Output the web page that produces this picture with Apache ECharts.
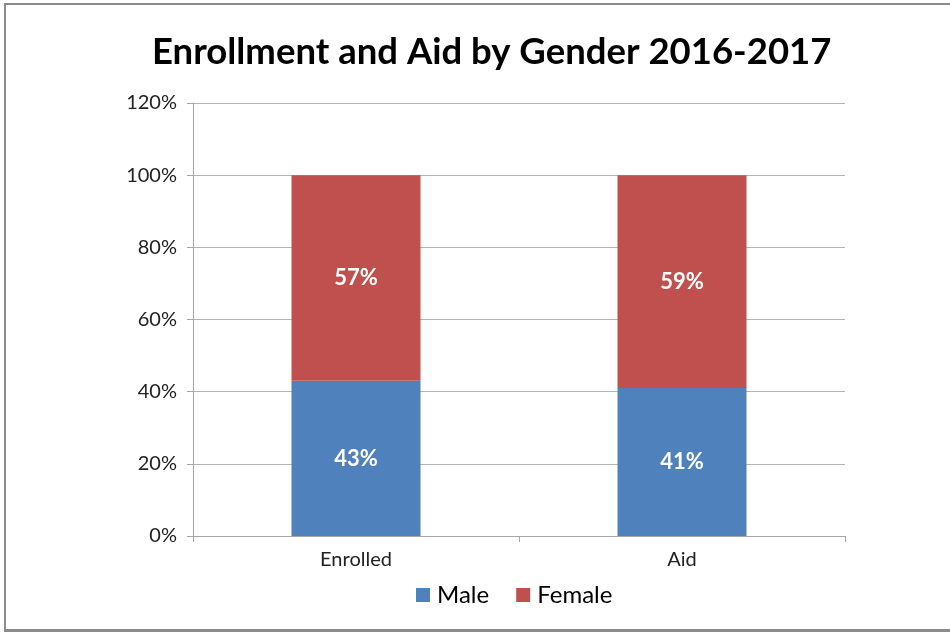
<!DOCTYPE html>
<html><head><meta charset="utf-8">
<script src="https://cdn.jsdelivr.net/npm/echarts@6/dist/echarts.min.js"></script>
<style>
html,body{margin:0;padding:0;background:#fff;}
#frame{position:absolute;left:0;top:0;width:950px;height:632px;}
#border{position:absolute;left:4px;top:3px;width:960px;height:624px;border-top:2px solid #8c8c8c;border-left:2px solid #8c8c8c;border-bottom:3px solid #8c8c8c;box-sizing:content-box;}
#chart{position:absolute;left:0;top:0;width:950px;height:632px;}
</style></head>
<body>
<div id="frame"><div id="border"></div><div id="chart"></div></div>
<script>
const titleText = 'Enrollment and Aid by Gender 2016-2017';
const categories = ['Enrolled', 'Aid'];
const maleValues = [43, 41];
const femaleValues = [57, 59];
const seriesNames = ['Male', 'Female'];

const chart = echarts.init(document.getElementById('chart'), null, {renderer: 'canvas'});
const font = 'Lato';
const labelStyle = {
  show: true, position: 'inside', color: '#fff', fontWeight: 'bold',
  fontFamily: font, fontSize: 22, formatter: p => p.value + '%'
};
chart.setOption({
  animation: false,
  title: {
    text: titleText, left: 147, top: 29,
    textStyle: {fontFamily: font, fontWeight: 'bold', fontSize: 36.5, color: '#000'}
  },
  legend: {
    data: seriesNames, bottom: 20, left: 411, itemWidth: 14, itemHeight: 14,
    itemGap: 27, icon: 'rect',
    textStyle: {fontFamily: font, fontSize: 24, color: '#000', padding: [0, 0, 0, 2]}
  },
  grid: {left: 193, right: 105, top: 103, bottom: 96},
  xAxis: {
    type: 'category', data: categories,
    axisLine: {lineStyle: {color: '#a6a6a6', width: 1}},
    axisTick: {show: true, length: 6, lineStyle: {color: '#a6a6a6'}},
    axisLabel: {fontFamily: font, fontSize: 20, color: '#222', margin: 14}
  },
  yAxis: {
    type: 'value', min: 0, max: 120, interval: 20,
    axisLine: {show: true, lineStyle: {color: '#a6a6a6', width: 1}},
    axisTick: {show: true, length: 6, lineStyle: {color: '#a6a6a6'}},
    splitLine: {lineStyle: {color: '#b3b3b3', width: 1}},
    axisLabel: {fontFamily: font, fontSize: 20, color: '#222', margin: 16, formatter: '{value}%'}
  },
  series: [
    {name: seriesNames[0], type: 'bar', stack: 'g', data: maleValues, barWidth: 129,
     itemStyle: {color: '#4f81bd'}, label: labelStyle},
    {name: seriesNames[1], type: 'bar', stack: 'g', data: femaleValues, barWidth: 129,
     itemStyle: {color: '#c0504d'}, label: labelStyle}
  ]
});
</script>
</body></html>
